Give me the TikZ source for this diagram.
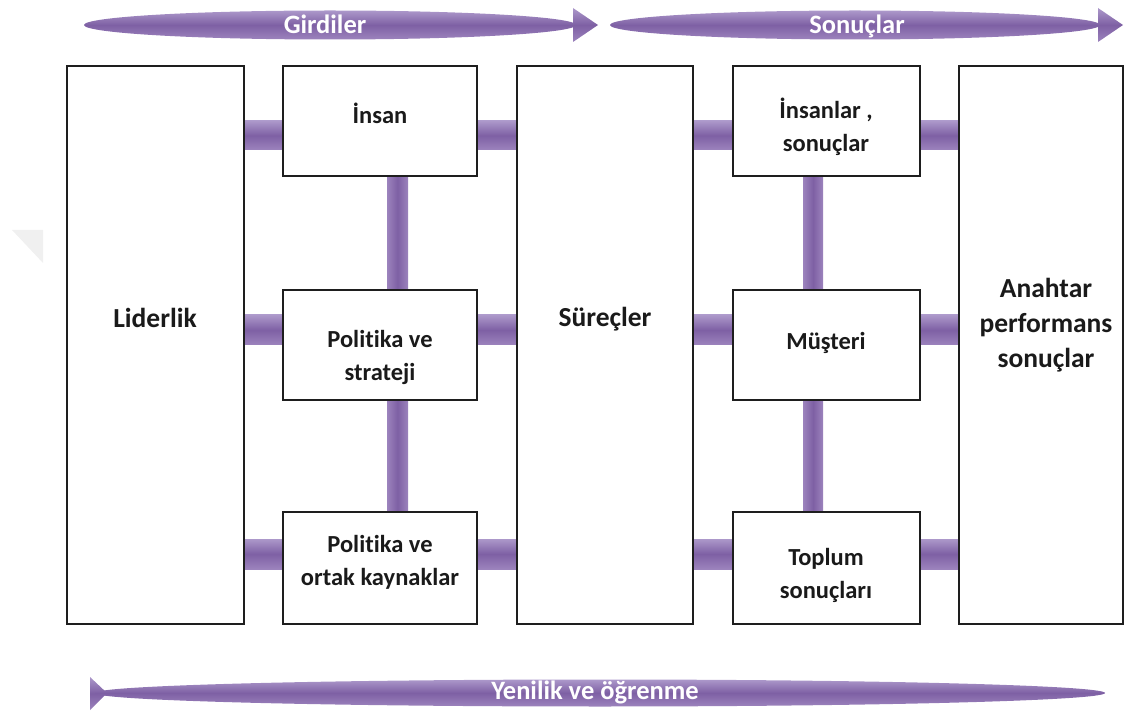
\documentclass[tikz,border=0pt]{standalone}
\usepackage{fontspec}
\setmainfont{Carlito}[Ligatures=NoCommon]
\usetikzlibrary{backgrounds}
\definecolor{barlight}{HTML}{AC98CA}
\definecolor{bardark}{HTML}{7E60A4}
\definecolor{barmid}{HTML}{9C83BD}
\definecolor{boxline}{HTML}{1E1E1E}
\definecolor{txt}{HTML}{1A1A1A}
\tikzset{
  box/.style={draw=boxline, line width=2pt, fill=white, inner sep=0pt},
  lbl/.style={font=\bfseries\fontsize{24.5}{33}\selectfont, text=txt, align=center, inner sep=0pt},
  biglbl/.style={font=\bfseries\fontsize{27.5}{35}\selectfont, text=txt, align=center, inner sep=0pt},
  banner/.style={top color=barlight, bottom color=barmid, middle color=bardark},
  bannertxt/.style={font=\bfseries\fontsize{26.5}{28}\selectfont, text=white, inner sep=0pt, anchor=base},
  hbar/.style={top color=barlight, bottom color=barmid, middle color=bardark},
  vbar/.style={left color=barmid, right color=barmid, middle color=bardark},
}
\begin{document}
\begin{tikzpicture}[x=1pt,y=-1pt]
\useasboundingbox (0,0) rectangle (1125,711);

% columns and boxes
\node[box, minimum width=177, minimum height=558] (lid) at (155.5,345) {};
\node[box, minimum width=194, minimum height=110] (ins) at (380,121) {};
\node[box, minimum width=194, minimum height=110] (pst) at (380,345) {};
\node[box, minimum width=194, minimum height=112] (pok) at (380,568) {};
\node[box, minimum width=176, minimum height=558] (sur) at (605,345) {};
\node[box, minimum width=187, minimum height=110] (isn) at (826.5,121) {};
\node[box, minimum width=187, minimum height=110] (mus) at (826.5,345) {};
\node[box, minimum width=187, minimum height=112] (top) at (826.5,568) {};
\node[box, minimum width=164, minimum height=558] (aps) at (1041,345) {};

% labels
\node[biglbl] (tlid) at (155,318) {Liderlik};
\node[lbl] (tins) at (380,113) {İnsan};
\node[lbl] (tpst) at (380,357) {Politika ve\\strateji};
\node[lbl] (tpok) at (380,562) {Politika ve\\ortak kaynaklar};
\node[biglbl] (tsur) at (605,319) {Süreçler};
\node[lbl] (tisn) at (826,127) {İnsanlar ,\\sonuçlar};
\node[lbl] (tmus) at (826,343) {Müşteri};
\node[lbl] (ttop) at (826,575) {Toplum\\sonuçları};
\node[biglbl] (taps) at (1046,325) {Anahtar\\performans\\sonuçlar};

% connecting bars behind the boxes
\begin{scope}[on background layer]
  \foreach \ya/\yb in {121/150, 315/345, 539/569} {
    \path[hbar] (lid.east |- 0,\ya) rectangle (ins.west |- 0,\yb);
    \path[hbar] (ins.east |- 0,\ya) rectangle (sur.west |- 0,\yb);
    \path[hbar] (sur.east |- 0,\ya) rectangle (isn.west |- 0,\yb);
    \path[hbar] (isn.east |- 0,\ya) rectangle (aps.west |- 0,\yb);
  }
  \path[vbar] (387,0 |- ins.south) rectangle (408,0 |- pst.north);
  \path[vbar] (387,0 |- pst.south) rectangle (408,0 |- pok.north);
  \path[vbar] (803,0 |- isn.south) rectangle (823,0 |- mus.north);
  \path[vbar] (803,0 |- mus.south) rectangle (823,0 |- top.north);
\end{scope}

% banners
\path[banner] (573,8) -- (598,25) -- (573,42) -- cycle;
\path[banner] (330,25) ellipse [x radius=246, y radius=14.5];
\node[bannertxt] (gird) at (325,34) {Girdiler};

\path[banner] (1098,8) -- (1123,25) -- (1098,42) -- cycle;
\path[banner] (855,25) ellipse [x radius=245, y radius=14.5];
\node[bannertxt] (sonu) at (857,34) {Sonuçlar};

\path[banner] (90,677) -- (107,693) -- (90,710) -- cycle;
\path[banner] (600,693) ellipse [x radius=505, y radius=13.5];
\node[bannertxt] (yeni) at (595,699) {Yenilik ve öğrenme};

% faint corner mark
\fill[black!6] (12,230) -- (43,230) -- (43,263) -- cycle;
\end{tikzpicture}
\end{document}
